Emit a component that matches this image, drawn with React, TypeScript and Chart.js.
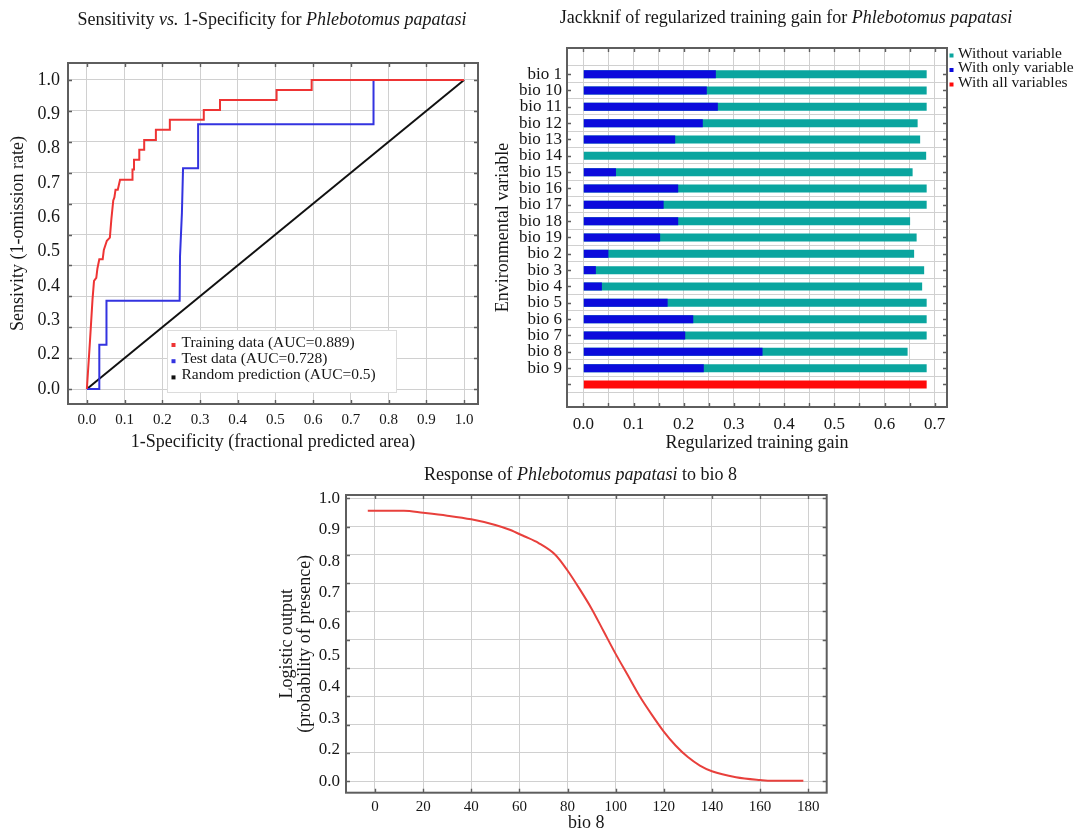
import React, { useEffect, useRef } from 'react';
import { Chart, registerables } from 'chart.js';

Chart.register(...registerables);

const FONT = "'Liberation Serif', 'Times New Roman', Times, serif";
const INK = '#161616';
const GRID = '#d0d0d0';
const FRAME = '#5e5e5e';

// ---------- ROC (Sensitivity vs 1-Specificity) ----------
const trainFpr = [0, 0.008, 0.015, 0.019, 0.025, 0.028, 0.033, 0.042, 0.045, 0.053, 0.061, 0.065, 0.07, 0.073, 0.076, 0.082, 0.088, 0.121, 0.121, 0.125, 0.125, 0.139, 0.139, 0.152, 0.152, 0.183, 0.183, 0.22, 0.22, 0.31, 0.31, 0.353, 0.353, 0.503, 0.503, 0.596, 0.596, 1.0];
const trainTpr = [0, 0.15, 0.29, 0.35, 0.36, 0.39, 0.42, 0.42, 0.45, 0.48, 0.49, 0.55, 0.61, 0.62, 0.645, 0.645, 0.677, 0.677, 0.71, 0.71, 0.742, 0.742, 0.774, 0.774, 0.806, 0.806, 0.839, 0.839, 0.871, 0.871, 0.903, 0.903, 0.935, 0.935, 0.968, 0.968, 1.0, 1.0];
const testFpr = [0, 0.033, 0.033, 0.052, 0.052, 0.246, 0.247, 0.252, 0.255, 0.295, 0.295, 0.76, 0.76, 1.0];
const testTpr = [0, 0, 0.143, 0.143, 0.286, 0.286, 0.43, 0.57, 0.714, 0.714, 0.857, 0.857, 1.0, 1.0];
const randomFpr = [0, 1];
const randomTpr = [0, 1];
const rocXTicks = [0, 0.1, 0.2, 0.3, 0.4, 0.5, 0.6, 0.7, 0.8, 0.9, 1.0];
const rocYGrid = [0, 0.1, 0.2, 0.3, 0.4, 0.5, 0.6, 0.7, 0.8, 0.9, 1.0];
const rocYTickLabels = ['0.0', '0.2', '0.3', '0.4', '0.5', '0.6', '0.7', '0.8', '0.9', '1.0'];

// ---------- Jackknife ----------
const bioLabels = ['bio 1', 'bio 10', 'bio 11', 'bio 12', 'bio 13', 'bio 14', 'bio 15', 'bio 16', 'bio 17', 'bio 18', 'bio 19', 'bio 2', 'bio 3', 'bio 4', 'bio 5', 'bio 6', 'bio 7', 'bio 8', 'bio 9'];
const gainWithout = [0.684, 0.684, 0.684, 0.666, 0.671, 0.683, 0.656, 0.684, 0.684, 0.651, 0.664, 0.659, 0.679, 0.675, 0.684, 0.684, 0.684, 0.646, 0.684];
const gainWithOnly = [0.264, 0.246, 0.268, 0.238, 0.183, 0, 0.065, 0.189, 0.16, 0.189, 0.153, 0.05, 0.025, 0.037, 0.168, 0.219, 0.203, 0.357, 0.24];
const gainWithAll = 0.684;
const gainTicks = [0, 0.05, 0.1, 0.15, 0.2, 0.25, 0.3, 0.35, 0.4, 0.45, 0.5, 0.55, 0.6, 0.65, 0.7];

// ---------- Response to bio 8 ----------
const bio8Values = [-3, 12, 20, 30, 40, 50, 56, 62, 68, 75, 80, 85, 90, 95, 100, 105, 110, 115, 120, 125, 130, 135, 140, 150, 160, 165, 178];
const bio8Logistic = [0.956, 0.956, 0.949, 0.939, 0.926, 0.906, 0.889, 0.866, 0.842, 0.8, 0.745, 0.68, 0.61, 0.53, 0.45, 0.375, 0.3, 0.235, 0.175, 0.125, 0.085, 0.055, 0.035, 0.014, 0.004, 0.001, 0.001];
const bio8Ticks = [0, 20, 40, 60, 80, 100, 120, 140, 160, 180];
const logisticGrid = [0, 0.1, 0.2, 0.3, 0.4, 0.5, 0.6, 0.7, 0.8, 0.9, 1.0];
const logisticTickLabels = ['0.0', '0.2', '0.3', '0.4', '0.5', '0.6', '0.7', '0.8', '0.9', '1.0'];

// ---------- helpers ----------
const font = (size: number) => ({ family: FONT, size, lineHeight: 1.2 });
const fixedTicks = (values: number[]) => (s: any) => {
  s.ticks = values.map((v) => ({ value: v }));
};
const evenTicks = (labels: string[]) => (s: any) => {
  s.ticks = labels.map((_, i) => ({ value: i / (labels.length - 1) }));
};

const mixedTitle = {
  id: 'mixedTitle',
  afterDraw(chart: any, _a: any, opts: any) {
    const { ctx } = chart;
    const parts = opts.parts || [];
    ctx.save();
    ctx.textBaseline = 'middle';
    ctx.textAlign = 'left';
    ctx.fillStyle = INK;
    const fontOf = (p: any) => `${p.italic ? 'italic ' : ''}${opts.size}px ${FONT}`;
    let total = 0;
    const widths = parts.map((p: any) => {
      ctx.font = fontOf(p);
      const w = ctx.measureText(p.text).width;
      total += w;
      return w;
    });
    let x = opts.x - total / 2;
    parts.forEach((p: any, i: number) => {
      ctx.font = fontOf(p);
      ctx.fillText(p.text, x, opts.y);
      x += widths[i];
    });
    ctx.restore();
  },
};

const frame = {
  id: 'frame',
  afterDatasetsDraw(chart: any, _a: any, opts: any) {
    const { ctx, chartArea: a } = chart;
    const xs = chart.scales[opts.xScale];
    const ys = chart.scales[opts.yScale];
    const len = opts.tick;
    ctx.save();
    ctx.strokeStyle = FRAME;
    ctx.lineWidth = 1.4;
    ctx.beginPath();
    xs.ticks.forEach((t: any) => {
      const p = Math.round(xs.getPixelForValue(t.value)) + 0.5;
      ctx.moveTo(p, a.top);
      ctx.lineTo(p, a.top + len);
      ctx.moveTo(p, a.bottom);
      ctx.lineTo(p, a.bottom - len);
    });
    ys.ticks.forEach((t: any) => {
      const p = Math.round(ys.getPixelForValue(t.value)) + 0.5;
      ctx.moveTo(a.left, p);
      ctx.lineTo(a.left + len, p);
      ctx.moveTo(a.right, p);
      ctx.lineTo(a.right - len, p);
    });
    ctx.stroke();
    ctx.lineWidth = 2;
    ctx.strokeRect(a.left, a.top, a.right - a.left, a.bottom - a.top);
    ctx.restore();
  },
};

const boxLegend = {
  id: 'boxLegend',
  afterDraw(chart: any, _a: any, opts: any) {
    const { ctx } = chart;
    ctx.save();
    if (opts.box) {
      const b = opts.box;
      ctx.fillStyle = '#ffffff';
      ctx.fillRect(b.x, b.y, b.w, b.h);
      ctx.strokeStyle = '#dcdcdc';
      ctx.lineWidth = 1;
      ctx.strokeRect(b.x + 0.5, b.y + 0.5, b.w, b.h);
    }
    ctx.font = `${opts.size}px ${FONT}`;
    ctx.textBaseline = 'middle';
    ctx.textAlign = 'left';
    const m = opts.marker;
    opts.order.forEach((di: number, i: number) => {
      const ds = chart.data.datasets[di];
      const cy = opts.y + i * opts.lineHeight;
      ctx.fillStyle = ds.backgroundColor;
      ctx.fillRect(opts.markerX - m / 2, cy + opts.markerDy - m / 2, m, m);
      ctx.fillStyle = INK;
      ctx.fillText(ds.label, opts.textX, cy);
    });
    ctx.restore();
  },
};

const toXY = (xs: number[], ys: number[]) => xs.map((x, i) => ({ x, y: ys[i] }));

// ---------- configs ----------
const rocConfig = () => ({
  type: 'line',
  data: {
    datasets: [
      { label: 'Training data (AUC=0.889)', data: toXY(trainFpr, trainTpr), borderColor: '#ee3434', backgroundColor: '#ee3434', borderWidth: 2, pointRadius: 0, fill: false, tension: 0 },
      { label: 'Test data (AUC=0.728)', data: toXY(testFpr, testTpr), borderColor: '#3333e0', backgroundColor: '#3333e0', borderWidth: 2, pointRadius: 0, fill: false, tension: 0 },
      { label: 'Random prediction (AUC=0.5)', data: toXY(randomFpr, randomTpr), borderColor: '#111111', backgroundColor: '#111111', borderWidth: 2, pointRadius: 0, fill: false, tension: 0 },
    ],
  },
  options: {
    responsive: false,
    animation: false,
    devicePixelRatio: 1,
    events: [],
    layout: { padding: { left: 0, top: 63, right: 12, bottom: 0 } },
    plugins: {
      legend: { display: false },
      tooltip: { enabled: false },
      mixedTitle: {
        parts: [{ text: 'Sensitivity ' }, { text: 'vs.', italic: true }, { text: ' 1-Specificity for ' }, { text: 'Phlebotomus papatasi', italic: true }],
        x: 272, y: 20, size: 18,
      },
      frame: { xScale: 'x', yScale: 'y', tick: 4 },
      boxLegend: { order: [0, 1, 2], box: { x: 167, y: 330, w: 229, h: 62 }, markerX: 173.5, textX: 181.5, y: 343, lineHeight: 16.2, size: 15.5, marker: 4, markerDy: 2 },
    },
    scales: {
      x: {
        type: 'linear', min: -0.05, max: 1.037,
        afterBuildTicks: fixedTicks(rocXTicks),
        afterFit: (s: any) => { s.height = 56; },
        ticks: { callback: (v: any) => Number(v).toFixed(1), font: font(15), color: INK, padding: 7, autoSkip: false, maxRotation: 0 },
        grid: { color: GRID, lineWidth: 1, drawTicks: false },
        border: { display: false },
        title: { display: true, text: '1-Specificity (fractional predicted area)', font: font(18), color: INK, padding: { top: 0, bottom: 7 } },
      },
      y: {
        type: 'linear', position: 'left', min: -0.0485, max: 1.055,
        afterBuildTicks: fixedTicks(rocYGrid),
        afterFit: (s: any) => { s.width = 0; },
        ticks: { display: false },
        grid: { color: GRID, lineWidth: 1, drawTicks: false },
        border: { display: false },
      },
      yl: {
        type: 'linear', position: 'left', min: -0.0485, max: 1.055,
        afterBuildTicks: evenTicks(rocYTickLabels),
        afterFit: (s: any) => { s.width = 68; },
        ticks: { callback: (_v: any, i: number) => rocYTickLabels[i], font: font(18), color: INK, padding: 8, autoSkip: false },
        grid: { display: false, drawTicks: false },
        border: { display: false },
        title: { display: true, text: 'Sensivity (1-omission rate)', font: font(18), color: INK, padding: { top: 7, bottom: 0 } },
      },
    },
  },
  plugins: [mixedTitle, frame, boxLegend],
});

const rows = bioLabels.map((_, i) => i + 1).concat([bioLabels.length + 1]);

const jackConfig = () => ({
  type: 'bar',
  data: {
    datasets: [
      { label: 'With only variable', data: gainWithOnly.map((v, i) => ({ x: v, y: i + 1 })), backgroundColor: '#0b0bdc', borderWidth: 0, grouped: false, maxBarThickness: 8 },
      { label: 'Without variable', data: gainWithout.map((v, i) => ({ x: v, y: i + 1 })), backgroundColor: '#0aa59f', borderWidth: 0, grouped: false, maxBarThickness: 8 },
      { label: 'With all variables', data: [{ x: gainWithAll, y: bioLabels.length + 1 }], backgroundColor: '#ff0a0a', borderWidth: 0, grouped: false, maxBarThickness: 8 },
    ],
  },
  options: {
    indexAxis: 'y',
    responsive: false,
    animation: false,
    devicePixelRatio: 1,
    events: [],
    layout: { padding: { left: 0, top: 48, right: 135, bottom: 0 } },
    plugins: {
      legend: { display: false },
      tooltip: { enabled: false },
      mixedTitle: {
        parts: [{ text: 'Jackknif of regularized training gain for ' }, { text: 'Phlebotomus papatasi', italic: true }],
        x: 296, y: 18.5, size: 18,
      },
      frame: { xScale: 'x', yScale: 'y', tick: 4 },
      boxLegend: { order: [1, 0, 2], markerX: 461.5, textX: 468, y: 53.5, lineHeight: 14.5, size: 15.5, marker: 4, markerDy: 2 },
    },
    scales: {
      x: {
        type: 'linear', min: -0.0325, max: 0.7245,
        afterBuildTicks: fixedTicks(gainTicks),
        afterFit: (s: any) => { s.height = 53; },
        ticks: {
          callback: (v: any) => (Math.round(Number(v) * 100) % 10 === 0 ? Number(v).toFixed(1) : ''),
          font: font(17), color: INK, padding: 7.8, autoSkip: false, maxRotation: 0,
        },
        grid: { color: GRID, lineWidth: 1, drawTicks: false },
        border: { display: false },
        title: { display: true, text: 'Regularized training gain', font: font(18), color: INK, padding: { top: 0, bottom: 6 } },
      },
      y: {
        type: 'linear', reverse: true, min: -0.05, max: 20.83,
        afterBuildTicks: fixedTicks(rows),
        afterFit: (s: any) => { s.width = 77; },
        ticks: { callback: (v: any) => bioLabels[Number(v) - 1] ?? '', font: font(17), color: INK, padding: 5, autoSkip: false },
        grid: { color: GRID, lineWidth: 1, drawTicks: false },
        border: { display: false },
        title: { display: true, text: 'Environmental variable', font: font(18), color: INK, padding: { top: 2, bottom: 0 } },
      },
    },
  },
  plugins: [mixedTitle, frame, boxLegend],
});

const respConfig = () => ({
  type: 'line',
  data: {
    datasets: [
      { label: 'bio 8', data: toXY(bio8Values, bio8Logistic), borderColor: '#e8403c', backgroundColor: '#e8403c', borderWidth: 2, pointRadius: 0, fill: false, tension: 0.4, cubicInterpolationMode: 'monotone' },
    ],
  },
  options: {
    responsive: false,
    animation: false,
    devicePixelRatio: 1,
    events: [],
    layout: { padding: { left: 0, top: 35, right: 13.3, bottom: 0 } },
    plugins: {
      legend: { display: false },
      tooltip: { enabled: false },
      mixedTitle: {
        parts: [{ text: 'Response of ' }, { text: 'Phlebotomus papatasi', italic: true }, { text: ' to bio 8' }],
        x: 340.5, y: 15, size: 18,
      },
      frame: { xScale: 'x', yScale: 'y', tick: 4 },
    },
    scales: {
      x: {
        type: 'linear', min: -12.05, max: 187.7,
        afterBuildTicks: fixedTicks(bio8Ticks),
        afterFit: (s: any) => { s.height = 41.3; },
        ticks: { callback: (v: any) => String(v), font: font(15), color: INK, padding: 5.8, autoSkip: false, maxRotation: 0 },
        grid: { color: GRID, lineWidth: 1, drawTicks: false },
        border: { display: false },
        title: { display: true, text: 'bio 8', font: font(18), color: INK, padding: { top: 0, bottom: 0 } },
      },
      y: {
        type: 'linear', position: 'left', min: -0.041, max: 1.012,
        afterBuildTicks: fixedTicks(logisticGrid),
        afterFit: (s: any) => { s.width = 0; },
        ticks: { display: false },
        grid: { color: GRID, lineWidth: 1, drawTicks: false },
        border: { display: false },
      },
      yl: {
        type: 'linear', position: 'left', min: -0.041, max: 1.012,
        afterBuildTicks: evenTicks(logisticTickLabels),
        afterFit: (s: any) => { s.width = 106; },
        ticks: { callback: (_v: any, i: number) => logisticTickLabels[i], font: font(17), color: INK, padding: 6, autoSkip: false },
        grid: { display: false, drawTicks: false },
        border: { display: false },
        title: { display: true, text: ['Logistic output', '(probability of presence)'], font: { family: FONT, size: 18, lineHeight: 1.0 }, color: INK, padding: { top: 38, bottom: 0 } },
      },
    },
  },
  plugins: [mixedTitle, frame],
});

function ChartBox({ make, left, top, width, height }: { make: () => any; left: number; top: number; width: number; height: number }) {
  const ref = useRef<HTMLCanvasElement>(null);
  useEffect(() => {
    if (!ref.current) return;
    const chart = new Chart(ref.current, make());
    return () => chart.destroy();
  }, [make]);
  return (
    <canvas
      ref={ref}
      width={width}
      height={height}
      style={{ position: 'absolute', left, top, width, height, display: 'block' }}
    />
  );
}

export default function App() {
  return (
    <div style={{ position: 'absolute', left: 0, top: 0, width: 1082, height: 834, background: '#ffffff', overflow: 'hidden' }}>
      <ChartBox make={rocConfig} left={0} top={0} width={490} height={460} />
      <ChartBox make={jackConfig} left={490} top={0} width={592} height={460} />
      <ChartBox make={respConfig} left={240} top={460} width={600} height={374} />
    </div>
  );
}
